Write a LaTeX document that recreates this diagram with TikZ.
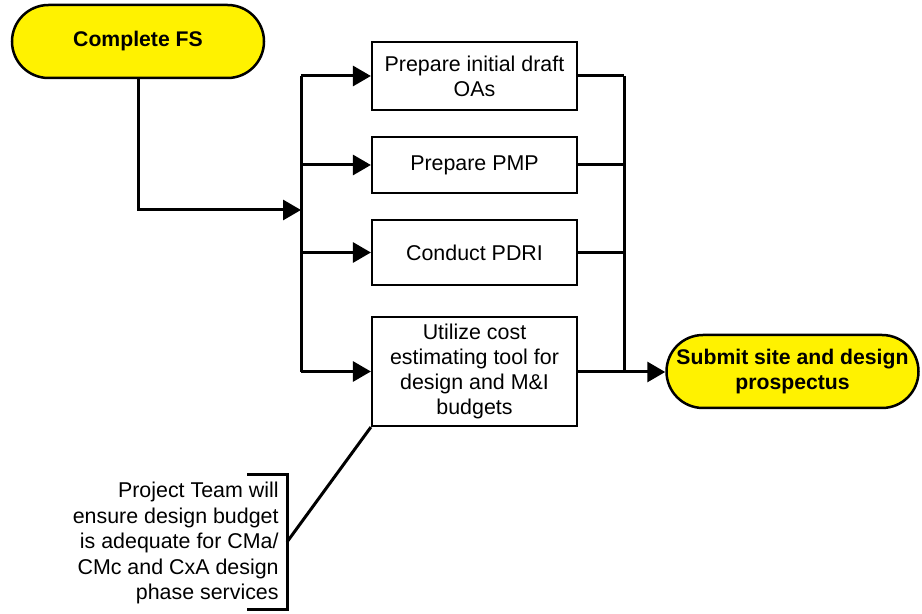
\documentclass[tikz,border=0pt]{standalone}
\usepackage{fontspec}
\setmainfont{Liberation Sans}
\usepackage{tikz}
\usetikzlibrary{arrows.meta, shapes.misc}

\tikzset{
  terminal/.style={rounded rectangle, draw, line width=1.25pt, fill=yellow,
    minimum width=128pt, minimum height=36.5pt, inner sep=1pt,
    font=\fontsize{10.6}{12.5}\selectfont\bfseries, align=center},
  task/.style={rectangle, draw, line width=1.1pt, minimum width=102.5pt,
    inner sep=1pt, font=\fontsize{10.7}{12.5}\selectfont, align=center},
  link/.style={line width=1.5pt},
  arr/.style={link, -{Triangle[length=9pt, width=10pt]}}
}

\begin{document}
\begin{tikzpicture}[x=0.5pt, y=-0.5pt]
  \useasboundingbox (0,0) rectangle (922,614);
  % Start and end
  \node[terminal] (fs) at (138,41.5) {Complete FS};
  \node[terminal] (sub) at (792.5,371.5) {Submit site and design\\prospectus};
  % Tasks
  \node[task, minimum height=34pt] (oa) at (474.5,76) {Prepare initial draft\\OAs};
  \node[task, minimum height=28pt] (pmp) at (474.5,165) {Prepare PMP};
  \node[task, minimum height=32.5pt] (pdri) at (474.5,252.5) {Conduct PDRI};
  \node[task, minimum height=54.5pt] (cost) at (474.5,371.5) {Utilize cost\\estimating tool for\\design and M\&I\\budgets};
  % Bus points
  \coordinate (bltop) at (301,76);
  \coordinate (blbot) at (301,372);
  \coordinate (blin) at (301,210);
  \coordinate (brtop) at (624,76);
  \coordinate (brbot) at (624,372);
  % Left bus
  \draw[arr] (fs.south) |- (blin);
  \draw[link] (bltop) -- (blbot);
  \draw[arr] (bltop |- oa.west) -- (oa.west);
  \draw[arr] (bltop |- pmp.west) -- (pmp.west);
  \draw[arr] (bltop |- pdri.west) -- (pdri.west);
  \draw[arr] (bltop |- cost.west) -- (cost.west);
  % Right bus
  \draw[link] (brtop) -- (brbot);
  \draw[link] (oa.east) -- (brtop |- oa.east);
  \draw[link] (pmp.east) -- (brtop |- pmp.east);
  \draw[link] (pdri.east) -- (brtop |- pdri.east);
  \draw[link] (cost.east) -- (brtop |- cost.east);
  \draw[arr] (brbot) -- (brbot -| sub.west);
  % Note
  \node[anchor=east, align=right, inner sep=0pt, font=\fontsize{10.7}{12.75}\selectfont] (note) at (279,543)
    {Project Team will\\ensure design budget\\is adequate for CMa/\\CMc and CxA design\\phase services};
  \coordinate (notept) at (287,542);
  \draw[link] (247,475) -- (287,475) -- (287,610) -- (247,610);
  \draw[link] (cost.south west) -- (notept);
\end{tikzpicture}
\end{document}
